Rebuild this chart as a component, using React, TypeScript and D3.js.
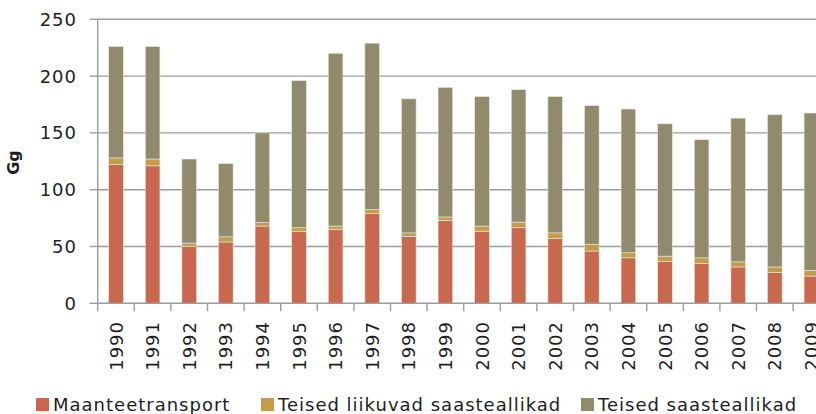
import React from "react";
import * as d3 from "d3";

const years = ["1990","1991","1992","1993","1994","1995","1996","1997","1998","1999","2000","2001","2002","2003","2004","2005","2006","2007","2008","2009"];
const maanteetransport = [122, 121, 50, 54, 68, 63.5, 65, 79, 59, 73, 63.5, 66.5, 57, 46, 40, 37, 35, 32, 27, 24];
const teisedLiikuvad = [6, 6, 3, 4.5, 3, 3, 3, 3.5, 3, 3, 4.5, 5, 5, 6, 4.5, 4.5, 5, 4.5, 5, 5];
const totals = [226, 226, 127, 123, 150, 196, 220, 229, 180, 190, 182, 188, 182, 174, 171, 158, 144, 163, 166, 167.5];
const teisedSaasteallikad = totals.map((t, i) => +(t - maanteetransport[i] - teisedLiikuvad[i]).toFixed(1));
const yTicks = [0, 50, 100, 150, 200, 250];
const seriesNames = ["Maanteetransport", "Teised liikuvad saasteallikad", "Teised saasteallikad"];
const colors = ["#C8684E", "#C49A4B", "#928A6D"];

export default function App() {
  const W = 816, H = 414;
  const x0 = 97.7, x1 = 829.7;
  const yTop = 19.3, yBot = 303.3;
  const x = d3.scaleBand<string>().domain(years).range([x0, x1]).paddingInner(0.6).paddingOuter(0.3);
  const y = d3.scaleLinear().domain([0, 250]).range([yBot, yTop]);
  const step = x.step();

  const table = years.map((yr, i) => ({
    year: yr,
    s0: maanteetransport[i],
    s1: teisedLiikuvad[i],
    s2: teisedSaasteallikad[i],
  }));
  const stack = d3.stack<any>().keys(["s0", "s1", "s2"]);
  const layers = stack(table);

  const font = "'DejaVu Sans', Verdana, sans-serif";
  const textColor = "#1e1e1e";

  const legendItems = [
    { sx: 36, tx: 53 },
    { sx: 261, tx: 278 },
    { sx: 581, tx: 598 },
  ];

  return (
    <svg width={W} height={H} style={{ position: "absolute", left: 0, top: 0 }} fontFamily={font}>
      <rect width={W} height={H} fill="#fff" />
      {yTicks.map((t) => (
        <g key={t}>
          {t > 0 && (
            <line x1={x0} x2={W} y1={y(t)} y2={y(t)} stroke="#9c9c9c" strokeWidth={1.4} />
          )}
          <line x1={x0 - 8} x2={x0} y1={y(t)} y2={y(t)} stroke="#9c9c9c" strokeWidth={1.4} />
          <text x={77} y={y(t)} dy="0.36em" textAnchor="end" fontSize={18} letterSpacing={1} fill={textColor}>
            {t}
          </text>
        </g>
      ))}
      {layers.map((layer, li) => (
        <g key={li} fill={colors[li]}>
          {layer.map((d: any, i: number) => (
            <rect
              key={i}
              x={x(years[i])}
              width={x.bandwidth()}
              y={y(d[1])}
              height={y(d[0]) - y(d[1])}
              stroke="#ebe6da"
              strokeWidth={0.6}
            />
          ))}
        </g>
      ))}
      <line x1={x0} x2={x0} y1={yTop} y2={yBot} stroke="#9c9c9c" strokeWidth={1.4} />
      <line x1={x0} x2={W} y1={yBot} y2={yBot} stroke="#9c9c9c" strokeWidth={1.4} />
      {d3.range(years.length + 1).map((i) => (
        <line key={i} x1={x0 + i * step} x2={x0 + i * step} y1={yBot} y2={yBot + 8} stroke="#9c9c9c" strokeWidth={1.4} />
      ))}
      {years.map((yr) => {
        const cx = (x(yr) as number) + x.bandwidth() / 2;
        return (
          <text
            key={yr}
            transform={`translate(${cx + 6.5},${321}) rotate(-90)`}
            textAnchor="end"
            fontSize={18}
            letterSpacing={1}
            fill={textColor}
          >
            {yr}
          </text>
        );
      })}
      <text
        transform={`translate(${19},${162.5}) rotate(-90)`}
        textAnchor="middle"
        fontSize={16}
        fontWeight="bold"
        fill={textColor}
      >
        Gg
      </text>
      {seriesNames.map((name, i) => (
        <g key={name}>
          <rect x={legendItems[i].sx} y={398} width={13} height={13} fill={colors[i]} />
          <text x={legendItems[i].tx} y={411} fontSize={18} letterSpacing={1} fill={textColor}>
            {name}
          </text>
        </g>
      ))}
    </svg>
  );
}
